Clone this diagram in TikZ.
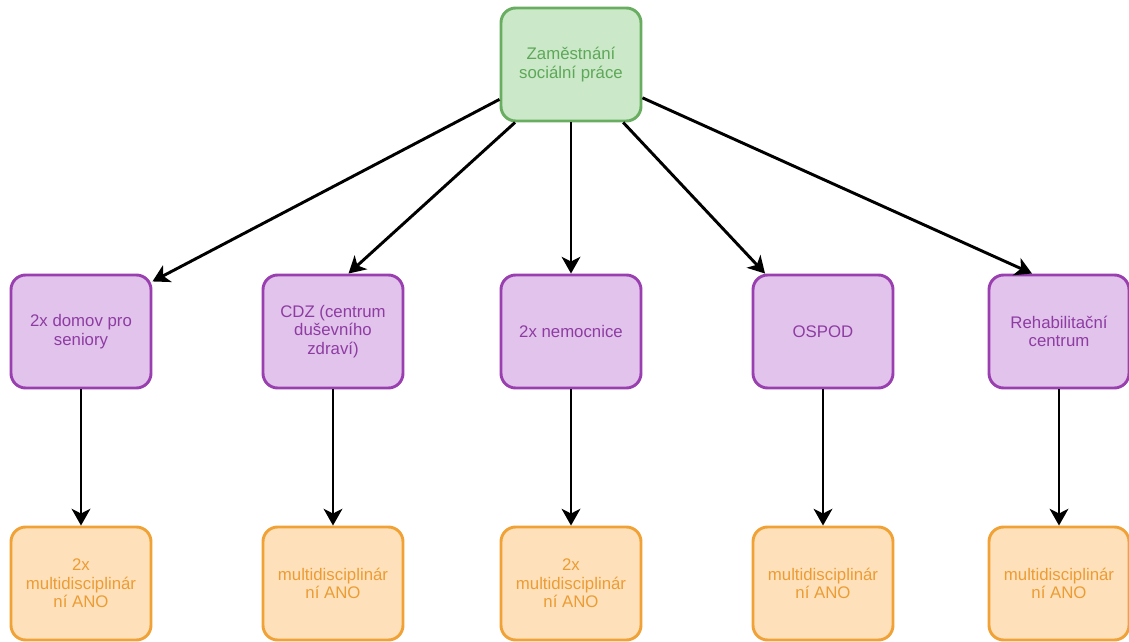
\documentclass[tikz,border=0pt]{standalone}
\usepackage{fontspec}
\setmainfont{Liberation Sans}
\usetikzlibrary{arrows.meta}

\definecolor{grfill}{HTML}{CBE8C8}
\definecolor{grline}{HTML}{68AD60}
\definecolor{grtext}{HTML}{5DA858}
\definecolor{pufill}{HTML}{E2C3EC}
\definecolor{puline}{HTML}{9A3FB0}
\definecolor{putext}{HTML}{8E3CA2}
\definecolor{orfill}{HTML}{FEE1BA}
\definecolor{orline}{HTML}{F0A236}
\definecolor{ortext}{HTML}{EC9C34}

\tikzset{
  box/.style={rectangle, rounded corners=11pt, line width=2.2pt,
    minimum width=105pt, minimum height=84.75pt, align=center,
    inner sep=2pt, font=\fontsize{12.6pt}{13.8pt}\selectfont},
  rootbox/.style={box, fill=grfill, draw=grline, text=grtext},
  placebox/.style={box, fill=pufill, draw=puline, text=putext},
  resultbox/.style={box, fill=orfill, draw=orline, text=ortext},
  link/.style={line width=2.2pt, draw=black,
    -{Stealth[length=12.5pt, width=14pt, inset=3.5pt]}}
}

\begin{document}
\begin{tikzpicture}[x=0.75pt, y=-0.75pt]
  \useasboundingbox (0,0) rectangle (1129,642);

  % top level
  \node[rootbox] (root) at (571,64.5) {Zaměstnání\\sociální práce};

  % workplaces
  \node[placebox] (p1) at (81,331.5)  {2x domov pro\\seniory};
  \node[placebox] (p2) at (333,331.5) {CDZ (centrum\\duševního\\zdraví)};
  \node[placebox] (p3) at (571,331.5) {2x nemocnice};
  \node[placebox] (p4) at (823,331.5) {OSPOD};
  \node[placebox] (p5) at (1059,331.5){Rehabilitační\\centrum};

  % outcomes
  \node[resultbox] (r1) at (81,583.5)  {2x\\multidisciplinár\\ní ANO};
  \node[resultbox] (r2) at (333,583.5) {multidisciplinár\\ní ANO};
  \node[resultbox] (r3) at (571,583.5) {2x\\multidisciplinár\\ní ANO};
  \node[resultbox] (r4) at (823,583.5) {multidisciplinár\\ní ANO};
  \node[resultbox] (r5) at (1059,583.5){multidisciplinár\\ní ANO};

  % connectors from the root
  \draw[link] (root.206.9) -- (p1.35);
  \draw[link] (root.226.3) -- (p2.75.1);
  \draw[link] (root.south) -- (p3.north);
  \draw[link] (root.312.6) -- (p4.135.7);
  \draw[link] (root.335.8) -- (p5.115.5);

  % connectors to the outcomes
  \draw[link] (p1.south) -- (r1.north);
  \draw[link] (p2.south) -- (r2.north);
  \draw[link] (p3.south) -- (r3.north);
  \draw[link] (p4.south) -- (r4.north);
  \draw[link] (p5.south) -- (r5.north);
\end{tikzpicture}
\end{document}
